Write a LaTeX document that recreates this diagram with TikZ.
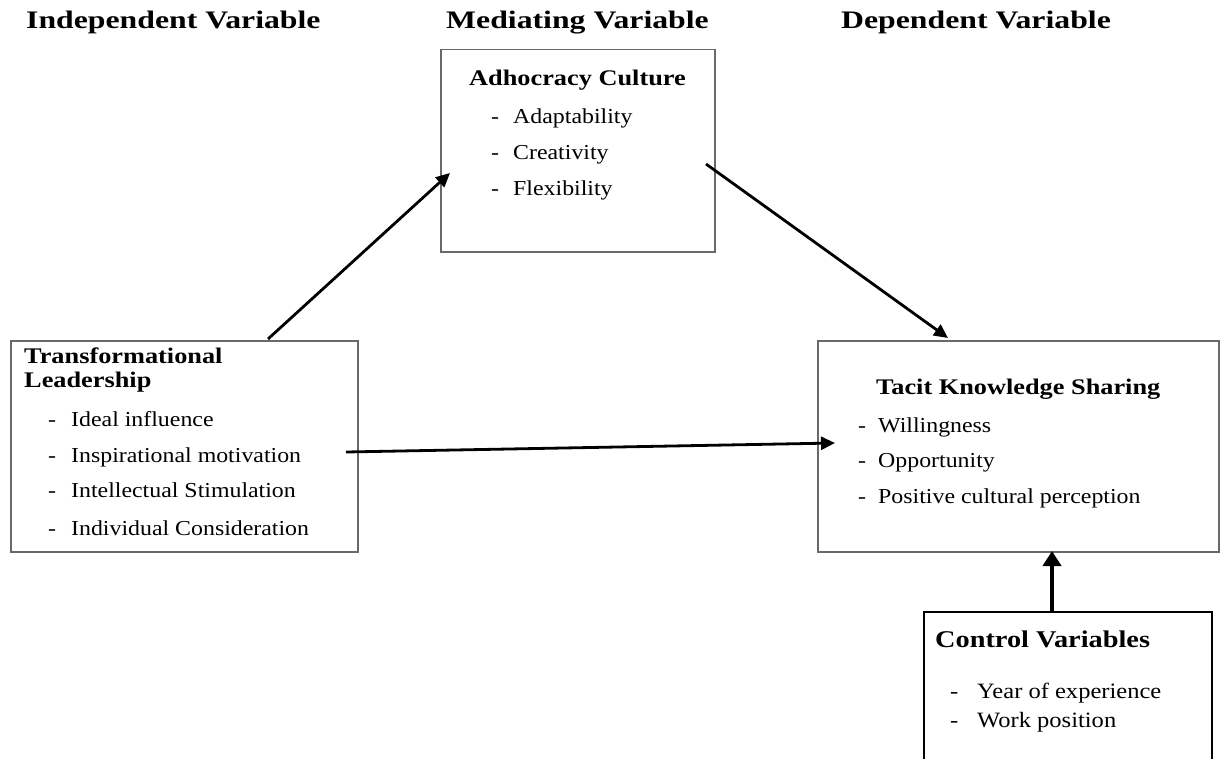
\documentclass[tikz,border=0pt]{standalone}
\usepackage{fontspec}
\setmainfont{Liberation Serif}[FakeStretch=1.12]
\newfontfamily\ttlfont{Liberation Serif}[FakeStretch=1.18]
\newfontfamily\hdfont{Liberation Serif}[FakeStretch=1.26]
\usetikzlibrary{arrows.meta}
\definecolor{boxgray}{RGB}{105,105,105}
\tikzset{
  box/.style={draw=boxgray, line width=1.5pt, inner sep=0pt, anchor=north west},
  txt/.style={anchor=base west, inner sep=0pt},
  hd/.style={txt, font=\hdfont\fontsize{25.2}{30}\selectfont\bfseries},
  ttl/.style={txt, font=\ttlfont\fontsize{22.3}{26}\selectfont\bfseries},
  itm/.style={txt, font=\fontsize{21.3}{25}\selectfont},
  arr/.style={-{Triangle[length=14pt,width=13pt]}, line width=2.8pt, black},
}
\begin{document}
\begin{tikzpicture}[x=1pt,y=1pt]
\useasboundingbox (0,0) rectangle (1222,-759);
% headers
\node[hd] (h1) at (26,-29) {Independent Variable};
\node[hd] (h2) at (446,-29) {Mediating Variable};
\node[hd] (h3) at (841,-29) {Dependent Variable};
% adhocracy culture
\node[box, minimum width=274pt, minimum height=202pt] (ac) at (440,-49) {};
\node[ttl] (act) at (469,-86) {Adhocracy Culture};
\node[itm] (ac1) at (491,-124) {\makebox[22pt][l]{-}Adaptability};
\node[itm] (ac2) at (491,-160) {\makebox[22pt][l]{-}Creativity};
\node[itm] (ac3) at (491,-196) {\makebox[22pt][l]{-}Flexibility};
% transformational leadership
\node[box, minimum width=347pt, minimum height=211pt] (tl) at (10,-340) {};
\node[ttl] (tlt1) at (24,-363) {Transformational};
\node[ttl] (tlt2) at (24,-387) {Leadership};
\node[itm] (tl1) at (48,-426) {\makebox[23pt][l]{-}Ideal influence};
\node[itm] (tl2) at (48,-462) {\makebox[23pt][l]{-}Inspirational motivation};
\node[itm] (tl3) at (48,-497) {\makebox[23pt][l]{-}Intellectual Stimulation};
\node[itm] (tl4) at (48,-535) {\makebox[23pt][l]{-}Individual Consideration};
% tacit knowledge sharing
\node[box, minimum width=401pt, minimum height=211pt] (tk) at (817,-340) {};
\node[ttl] (tkt) at (876,-394) {Tacit Knowledge Sharing};
\node[itm] (tk1) at (858,-432) {\makebox[20pt][l]{-}Willingness};
\node[itm] (tk2) at (858,-467) {\makebox[20pt][l]{-}Opportunity};
\node[itm] (tk3) at (858,-503) {\makebox[20pt][l]{-}Positive cultural perception};
% control variables (open at the bottom)
\draw[line width=2.7pt, black] (924,-759) -- (924,-612) -- (1212,-612) -- (1212,-759);
\node[txt, font=\ttlfont\fontsize{24}{28}\selectfont\bfseries] (cvt) at (935,-647) {Control Variables};
\node[txt, font=\fontsize{21.9}{25}\selectfont] (cv1) at (950,-698) {\makebox[27pt][l]{-}Year of experience};
\node[txt, font=\fontsize{21.9}{25}\selectfont] (cv2) at (950,-727) {\makebox[27pt][l]{-}Work position};
% connector end points
\coordinate (a1s) at (268,-339);
\coordinate (a1e) at (450,-173);
\coordinate (a2s) at (706,-164);
\coordinate (a2e) at (948,-338);
\coordinate (a3s) at (346,-452);
\coordinate (a3e) at (835,-443);
\coordinate (a4s) at (1052,-612);
\coordinate (a4e) at (1052,-551);
\draw[arr] (a1s) -- (a1e);
\draw[arr] (a2s) -- (a2e);
\draw[arr] (a3s) -- (a3e);
\draw[arr, line width=3.8pt, -{Triangle[length=15pt,width=18pt]}] (a4s) -- (a4e);
\end{tikzpicture}
\end{document}
